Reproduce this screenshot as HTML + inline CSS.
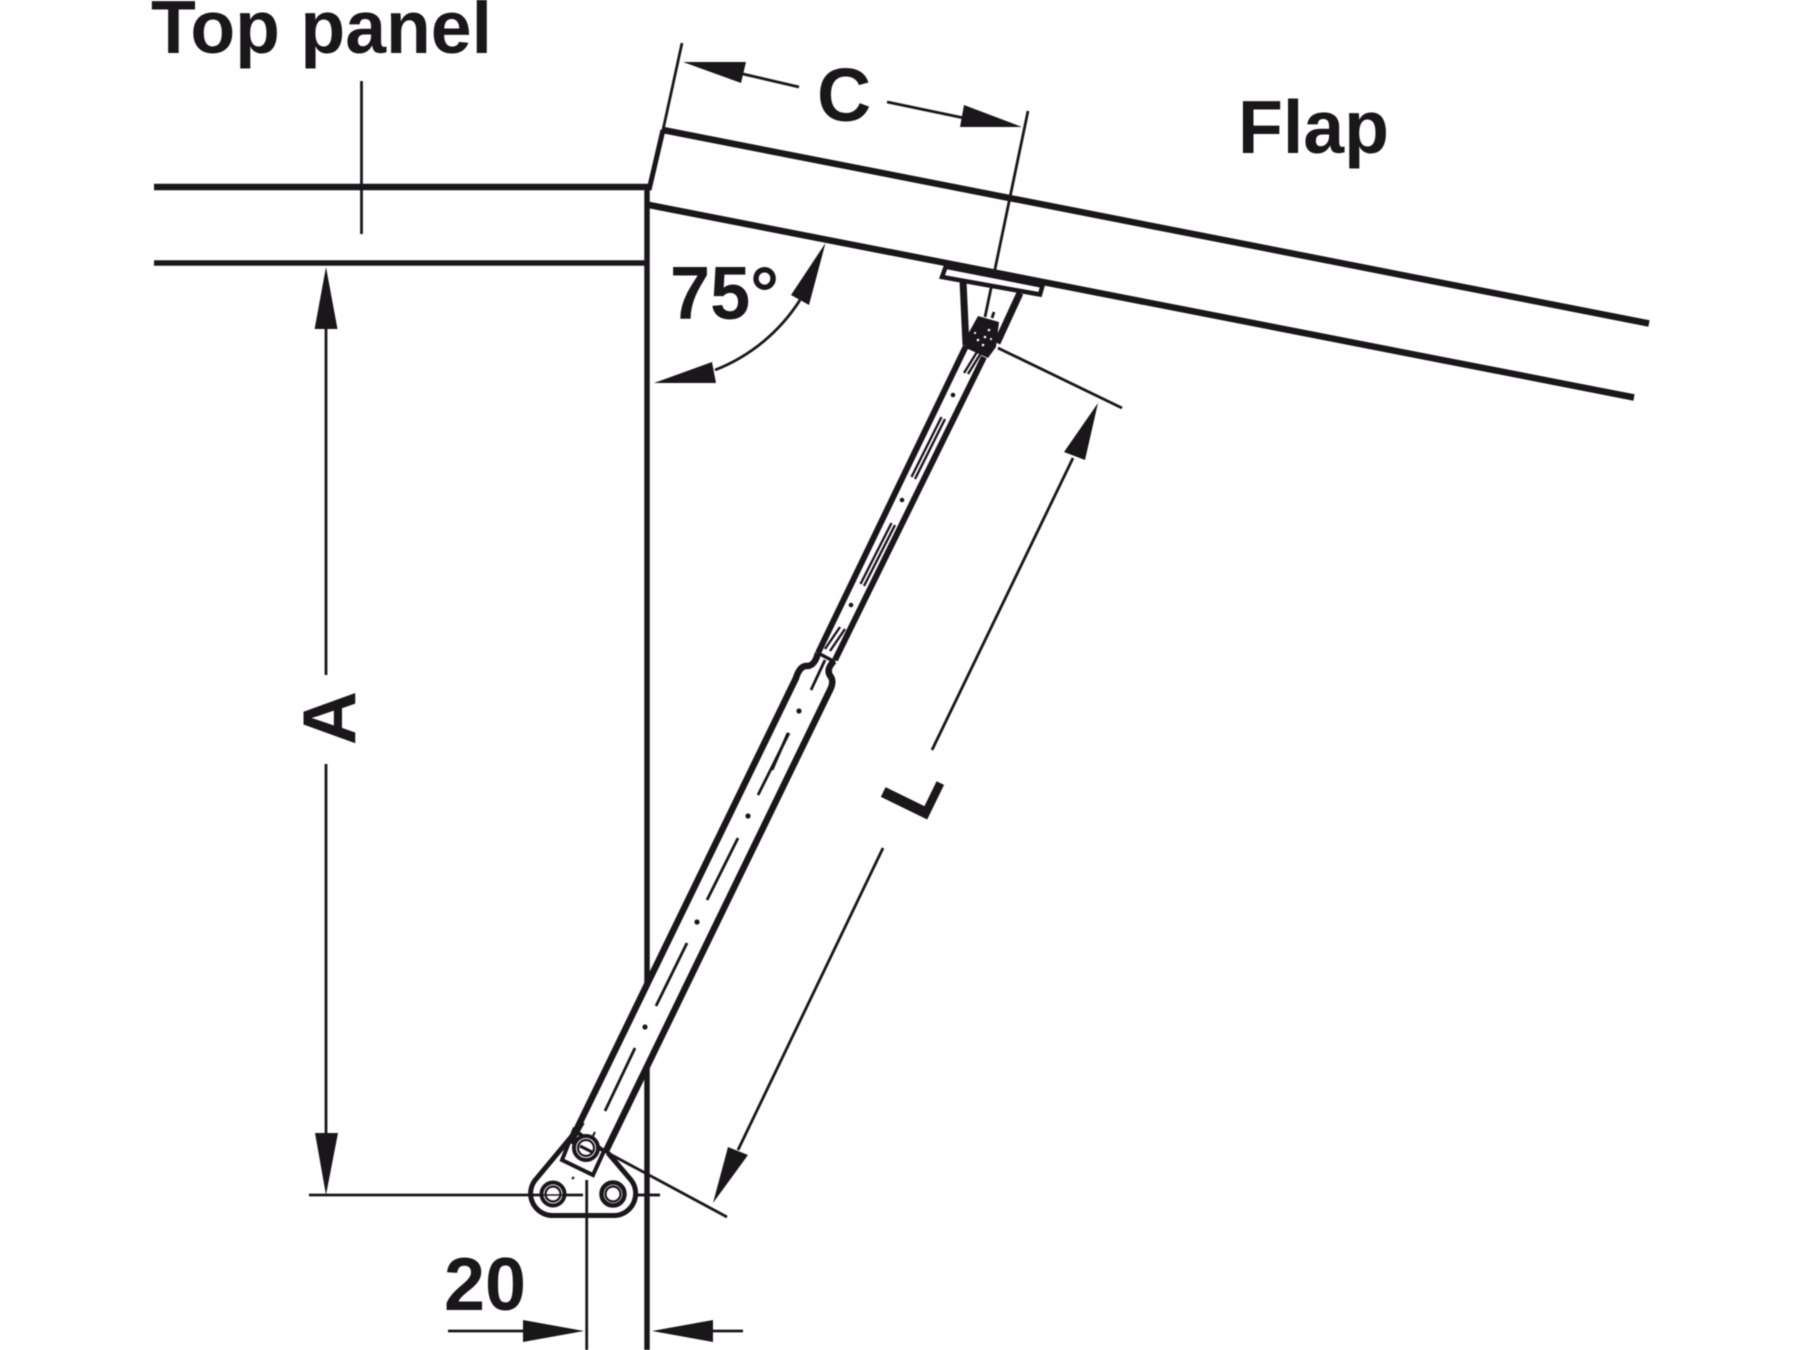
<!DOCTYPE html>
<html>
<head>
<meta charset="utf-8">
<style>
html,body{margin:0;padding:0;background:#fff;width:1800px;height:1350px;overflow:hidden}
svg{display:block;filter:blur(0.5px)}
text{font-family:"Liberation Sans",Arial,sans-serif;font-weight:700;fill:#1a171b;font-size:75px}
</style>
</head>
<body>
<svg width="1800" height="1350" viewBox="0 0 1800 1350" xmlns="http://www.w3.org/2000/svg">
<rect width="1800" height="1350" fill="#fff"/>
<g fill="none" stroke="#1a171b" stroke-linecap="butt">
  <!-- top panel -->
  <line x1="154" y1="187" x2="650" y2="187" stroke-width="6.5"/>
  <line x1="154" y1="263" x2="647" y2="263" stroke-width="5.5"/>
  <line x1="361.5" y1="81" x2="361.5" y2="234" stroke-width="2.8"/>
  <!-- wall -->
  <line x1="647" y1="185" x2="647" y2="1350" stroke-width="5.5"/>
  <!-- flap -->
  <line x1="649" y1="190" x2="663" y2="130" stroke-width="5"/>
  <line x1="663" y1="130" x2="682" y2="43" stroke-width="2.8"/>
  <line x1="663" y1="130" x2="1649" y2="323.5" stroke-width="6.5"/>
  <line x1="649" y1="205" x2="1634" y2="397.5" stroke-width="6.5"/>
  <!-- C witness -->
  <line x1="1028" y1="111" x2="985" y2="317" stroke-width="2.8"/>
  <!-- C dim -->
  <line x1="743" y1="74" x2="799" y2="87" stroke-width="2.8"/>
  <line x1="887" y1="102" x2="964" y2="118" stroke-width="2.8"/>
  <!-- 75 arc -->
  <path d="M800,300 A177 177 0 0 1 715,370" stroke-width="2.8"/>
  <!-- A dim -->
  <line x1="326" y1="320" x2="326" y2="675" stroke-width="2.8"/>
  <line x1="326" y1="764" x2="326" y2="1140" stroke-width="2.8"/>
  <line x1="309" y1="1195" x2="583" y2="1195" stroke-width="2.8"/>
  <line x1="637" y1="1195" x2="660" y2="1195" stroke-width="2.8"/>
  <!-- 20 dim -->
  <line x1="448" y1="1331" x2="530" y2="1331" stroke-width="2.8"/>
  <line x1="705" y1="1331" x2="743" y2="1331" stroke-width="2.8"/>
  <!-- L dim -->
  <line x1="883" y1="848" x2="738" y2="1150" stroke-width="2.8"/>
  <line x1="932" y1="750" x2="1073" y2="458" stroke-width="2.8"/>
  <line x1="998" y1="348" x2="1122" y2="408" stroke-width="2.8"/>
  <line x1="608" y1="1153" x2="727" y2="1217" stroke-width="2.8"/>
</g>

<!-- arrowheads -->
<g fill="#1a171b" stroke="none">
  <polygon points="683,62 746,62 741,83"/>
  <polygon points="1022,127 964,105 960,127"/>
  <polygon points="326,267 314.6,329 337.5,329"/>
  <polygon points="326,1195 315,1133 338,1133"/>
  <polygon points="825.5,243 791,295 809,305"/>
  <polygon points="654,383 712,362 716,383"/>
  <polygon points="584,1331 523,1320 523,1342"/>
  <polygon points="652,1331 713,1320 713,1342"/>
  <polygon points="1098,403 1064,452 1085,460"/>
  <polygon points="713,1203 728,1147 748,1155"/>
</g>

<!-- strut -->
<g stroke="#1a171b" fill="none">
  <polygon points="797,680 800,668 810,667 818,653 963,350 982,360 833,660 827,670 832,680 832,687 605,1153 570,1143" fill="#fff" stroke="none"/>
  <!-- rod -->
  <line x1="966" y1="346" x2="818" y2="653" stroke-width="6"/>
  <line x1="984" y1="357" x2="835" y2="660" stroke-width="6"/>
  <line x1="818" y1="653" x2="835" y2="662" stroke-width="3.5"/>
  <!-- cylinder -->
  <path d="M818,653 Q815,665 808,666 Q800,665 796,678 L570,1143" stroke-width="6.5"/>
  <path d="M834,661 Q825,670 831,677 Q834,682 830,690 L605,1153" stroke-width="6.5"/>
  <!-- inner dashes -->
  <g stroke-width="2.4">
    <line x1="964" y1="373" x2="977" y2="352"/>
    <line x1="968" y1="374" x2="981" y2="353"/>
    <line x1="911.5" y1="477" x2="941.5" y2="417"/>
    <line x1="915" y1="479" x2="945" y2="419"/>
    <line x1="860.5" y1="584" x2="891.5" y2="523"/>
    <line x1="864" y1="586" x2="895" y2="525"/>
    <line x1="825" y1="649" x2="840" y2="627"/>
    <line x1="830" y1="651" x2="845" y2="629"/>
    <line x1="811" y1="690" x2="825" y2="660" stroke-width="2.8"/>
    <line x1="772" y1="770" x2="788" y2="733" stroke-width="2.8"/>
    <line x1="758" y1="795" x2="789" y2="733" stroke-width="2.8"/>
    <line x1="707" y1="900" x2="738" y2="838" stroke-width="2.8"/>
    <line x1="656" y1="1006" x2="687" y2="943" stroke-width="2.8"/>
    <line x1="605" y1="1111" x2="635" y2="1048" stroke-width="2.8"/>
    <line x1="585" y1="1113" x2="580" y2="1127" stroke-width="2.2"/>
  </g>
  <g fill="#1a171b" stroke="none">
    <circle cx="953" cy="395" r="2.3"/>
    <circle cx="902" cy="500" r="2.3"/>
    <circle cx="851" cy="605" r="2.3"/>
    <circle cx="799" cy="711" r="2.6"/>
    <circle cx="748" cy="816" r="2.6"/>
    <circle cx="697" cy="922" r="2.6"/>
    <circle cx="645" cy="1027" r="2.6"/>
  </g>
</g>

<!-- top bracket -->
<g stroke="#1a171b" fill="none">
  <polygon points="946,266 942,277 1040,294.5 1043,284" fill="#fff" stroke-width="4.5"/>
  <line x1="946" y1="266" x2="1043" y2="285" stroke-width="6"/>
  <line x1="963" y1="281" x2="966" y2="345" stroke-width="7"/>
  <line x1="1020" y1="293" x2="997" y2="343" stroke-width="7"/>
  <polygon points="978,316 999,322 996,347 988,358 968,349 963,343" fill="#1a171b" stroke="none"/>
  <g fill="#fff" stroke="none">
    <circle cx="978" cy="340" r="1.3"/>
    <circle cx="985" cy="337" r="1.3"/>
    <circle cx="989" cy="330" r="1.3"/>
    <circle cx="983" cy="345" r="1.3"/>
    <circle cx="975" cy="333" r="1.1"/>
    <circle cx="991" cy="339" r="1.1"/>
  </g>
  <line x1="994" y1="312" x2="992" y2="318" stroke-width="2.8"/>
</g>

<!-- bottom plate -->
<g stroke="#1a171b" fill="none">
  <path d="M572,1136 L537,1178 A22 22 0 0 0 553,1215.5 L615,1215.5 A22 22 0 0 0 631,1180 L608,1153" stroke-width="5" fill="#fff"/>
  <line x1="532" y1="1195" x2="583" y2="1195" stroke-width="2.8"/>
  <line x1="637" y1="1195" x2="660" y2="1195" stroke-width="2.8"/>
  <line x1="586.7" y1="1180" x2="586.7" y2="1350" stroke-width="2.8"/>
  <circle cx="553" cy="1194" r="11.5" stroke-width="4" fill="#fff"/>
  <circle cx="553" cy="1194" r="7.5" stroke-width="2.2"/>
  <line x1="542" y1="1195" x2="565" y2="1195" stroke-width="1.5"/>
  <circle cx="613" cy="1194" r="11.5" stroke-width="4.5" fill="#fff"/>
  <circle cx="613" cy="1194" r="7.5" stroke-width="2.2"/>
  <polygon points="574,1130 604,1151 593,1175 562,1160" fill="#fff" stroke-width="4"/>
  <circle cx="586" cy="1148" r="12" stroke-width="4" fill="#fff"/>
  <circle cx="586" cy="1148" r="8" stroke-width="2.2"/>
  <line x1="580" y1="1146" x2="592" y2="1152" stroke-width="3"/>
  <line x1="595" y1="1132" x2="593" y2="1136" stroke-width="2"/>
  <line x1="574" y1="1177" x2="572" y2="1179" stroke-width="2"/>
  <line x1="570" y1="1143" x2="582" y2="1122" stroke-width="6"/>
  <line x1="605" y1="1153" x2="615" y2="1132" stroke-width="6"/>
</g>

<!-- labels -->
<text x="151" y="53" textLength="341" lengthAdjust="spacingAndGlyphs">Top panel</text>
<text x="1238" y="153" textLength="151" lengthAdjust="spacingAndGlyphs">Flap</text>
<text x="817" y="121">C</text>
<text x="670" y="319" textLength="109" lengthAdjust="spacingAndGlyphs">75°</text>
<text x="444" y="1310" textLength="82" lengthAdjust="spacingAndGlyphs">20</text>
<text transform="translate(355,718) rotate(-90)" text-anchor="middle">A</text>
<text transform="translate(925,824) rotate(-64)">L</text>
</svg>
</body>
</html>
